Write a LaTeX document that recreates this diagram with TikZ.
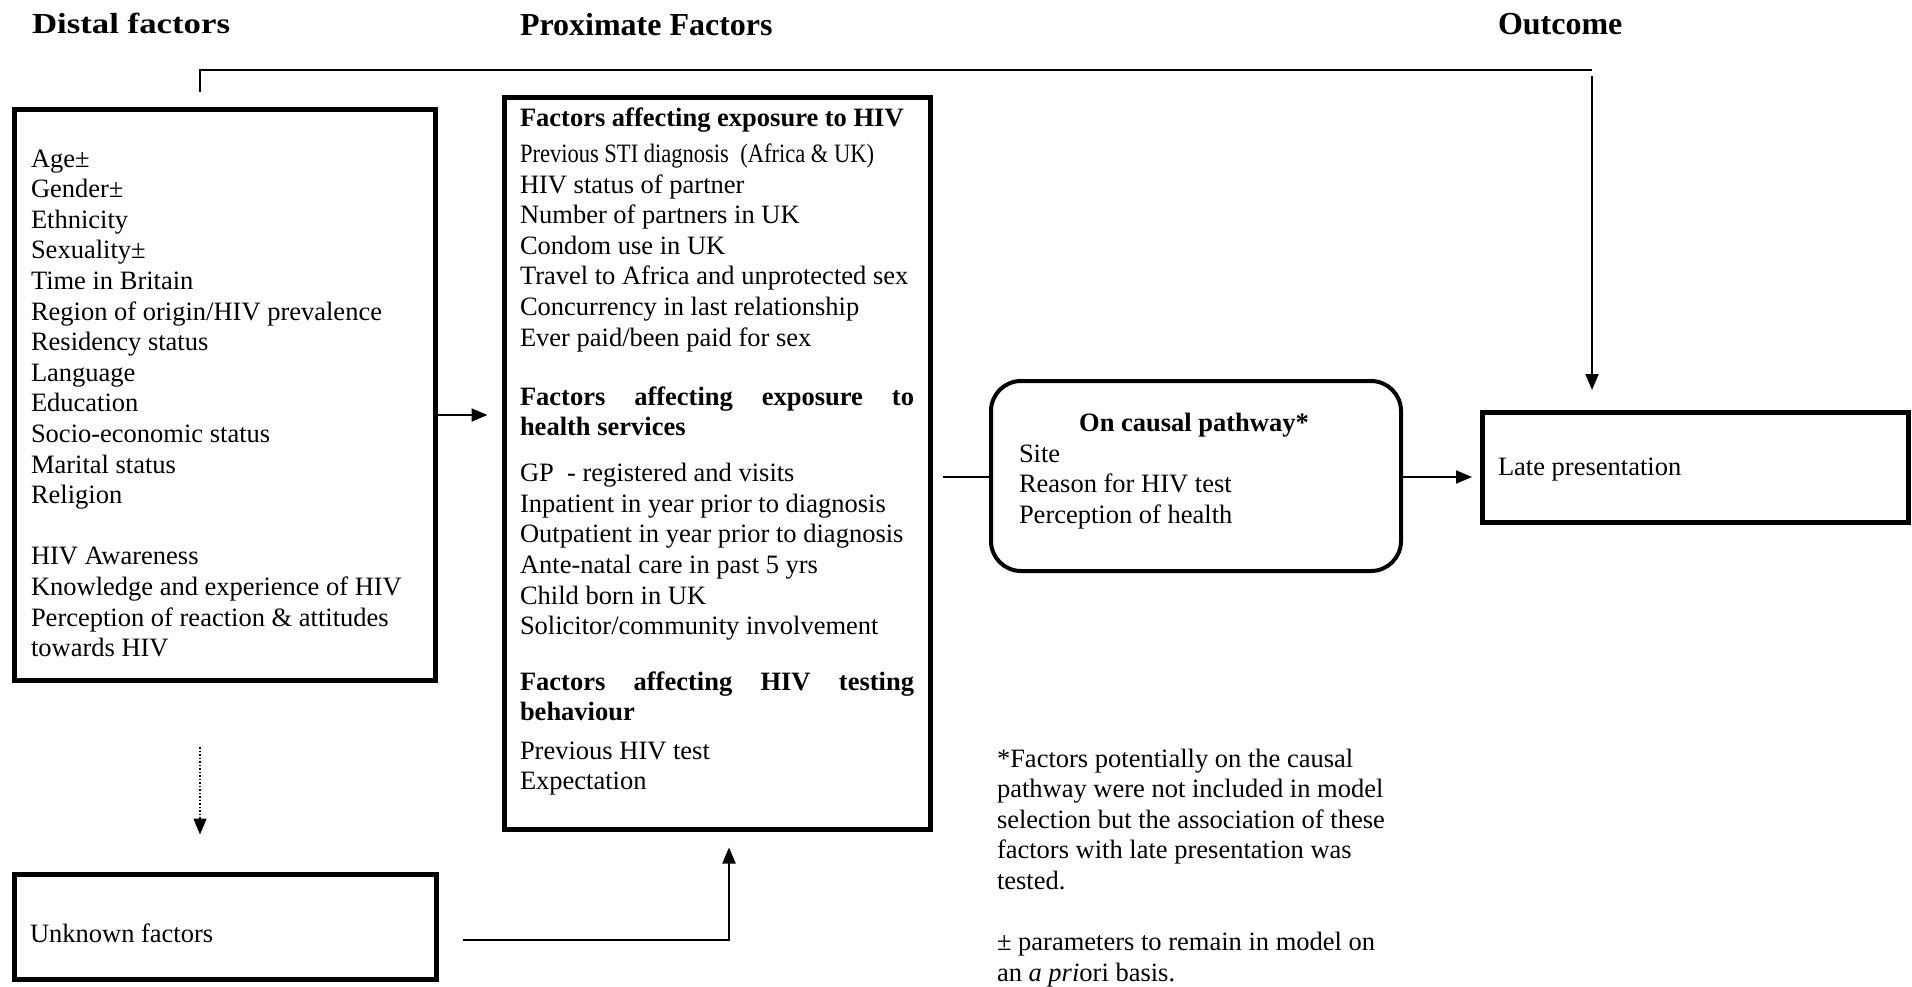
\documentclass[tikz,border=0pt]{standalone}
\usepackage{fontspec}
\setmainfont{Liberation Serif}
\usetikzlibrary{arrows.meta,calc}
\begin{document}
\begin{tikzpicture}[x=1pt,y=-1pt,
  box/.style={draw, line width=5pt, rectangle, outer sep=0pt, inner sep=0pt, anchor=north west},
  rbox/.style={draw, line width=4pt, rectangle, rounded corners=30pt, outer sep=0pt, inner sep=0pt, anchor=north west},
  txt/.style={anchor=base west, inner sep=0pt, outer sep=0pt, font=\fontsize{26.5}{30.6}\selectfont},
  hdr/.style={anchor=base west, inner sep=0pt, outer sep=0pt, font=\fontsize{32}{36}\selectfont\bfseries},
  conn/.style={line width=2pt},
  arr/.style={conn, -{Triangle[length=16pt,width=13pt]}},
  dotarr/.style={line width=1.5pt, dash pattern=on 1.5pt off 2pt, -{Triangle[length=16pt,width=13pt]}},
]
\useasboundingbox (0,0) rectangle (1912,986);

% boxes
\node[box, minimum width=421pt, minimum height=571pt] (distal) at (14.5,109.5) {};
\node[box, minimum width=426pt, minimum height=732pt] (prox) at (504.5,97.5) {};
\node[rbox, minimum width=410pt, minimum height=190pt] (causal) at (991,381) {};
\node[box, minimum width=426pt, minimum height=110pt] (late) at (1482,412) {};
\node[box, minimum width=422pt, minimum height=105pt] (unknown) at (14.5,874.5) {};

% headers
\node[hdr] (hdistal) at (32,33) {\scalebox{1.2}[1]{\fontsize{29}{33}\selectfont\bfseries Distal factors}};
\node[hdr] (hprox) at (520,35) {Proximate Factors};
\node[hdr] (hout) at (1498,34) {Outcome};

% distal text
\node[txt] (distaltext) at (31,167) {\parbox[t]{400pt}{\raggedright
Age±\\
Gender±\\
Ethnicity\\
Sexuality±\\
Time in Britain\\
Region of origin/HIV prevalence\\
Residency status\\
Language\\
Education\\
Socio-economic status\\
Marital status\\
Religion\\[30.6pt]
HIV Awareness\\
Knowledge and experience of HIV\\
Perception of reaction \& attitudes\\
towards HIV}};

% proximate text
\node[txt] (proxtext) at (520,126) {\parbox[t]{400pt}{\raggedright
\textbf{Factors affecting exposure to HIV}\\[5.9pt]
\scalebox{0.85}[1]{Previous STI diagnosis\ \ (Africa \& UK)}\\
HIV status of partner\\
Number of partners in UK\\
Condom use in UK\\
Travel to Africa and unprotected sex\\
Concurrency in last relationship\\
Ever paid/been paid for sex\\[28.3pt]
\makebox[394pt][s]{\textbf{Factors affecting exposure to}}\\
\textbf{health services}\\[15.5pt]
GP\ \ - registered and visits\\
Inpatient in year prior to diagnosis\\
Outpatient in year prior to diagnosis\\
Ante-natal care in past 5 yrs\\
Child born in UK\\
Solicitor/community involvement\\[24.7pt]
\makebox[394pt][s]{\textbf{Factors affecting HIV testing}}\\
\textbf{behaviour}\\[7.8pt]
Previous HIV test\\
Expectation}};

% causal text
\node[txt, anchor=base] (causalhead) at (1194,431) {\textbf{On causal pathway*}};
\node[txt] (causaltext) at (1019,462) {\parbox[t]{360pt}{\raggedright
Site\\
Reason for HIV test\\
Perception of health}};

\node[txt] (latetext) at (1498,475) {Late presentation};
\node[txt] (unknowntext) at (30,942) {Unknown factors};

% footnote
\node[txt] (note) at (997,767) {\parbox[t]{440pt}{\raggedright
*Factors potentially on the causal\\
pathway were not included in model\\
selection but the association of these\\
factors with late presentation was\\
tested.\\[30.6pt]
± parameters to remain in model on\\
an \textit{a pri}ori basis.}};

% helper coordinates
\coordinate (tl1) at (200,92);
\coordinate (tl2) at (200,69.5);
\coordinate (tr) at (1592,69.5);
\coordinate (ts) at (1592,76);
\coordinate (y415) at (0,415);
\coordinate (y477) at (0,477);
\coordinate (y940) at (0,940);
\coordinate (x729) at (729,0);
\coordinate (d1) at (200,747);

% connectors
\draw[conn] (tl1) -- (tl2) -- (tr);
\draw[arr] (ts) -- ($(late.north -| ts)+(0,-22)$);
\draw[arr] (distal.east |- y415) -- ($(prox.west |- y415)+(-17,0)$);
\draw[conn] ($(prox.east |- y477)+(12,0)$) -- (causal.west |- y477);
\draw[arr] (causal.east |- y477) -- ($(late.west |- y477)+(-10,0)$);
\draw[dotarr] (d1) -- ($(unknown.north -| d1)+(0,-40)$);
\draw[arr] ($(unknown.east |- y940)+(26,0)$) -| ($(prox.south -| x729)+(0,18)$);
\end{tikzpicture}
\end{document}
